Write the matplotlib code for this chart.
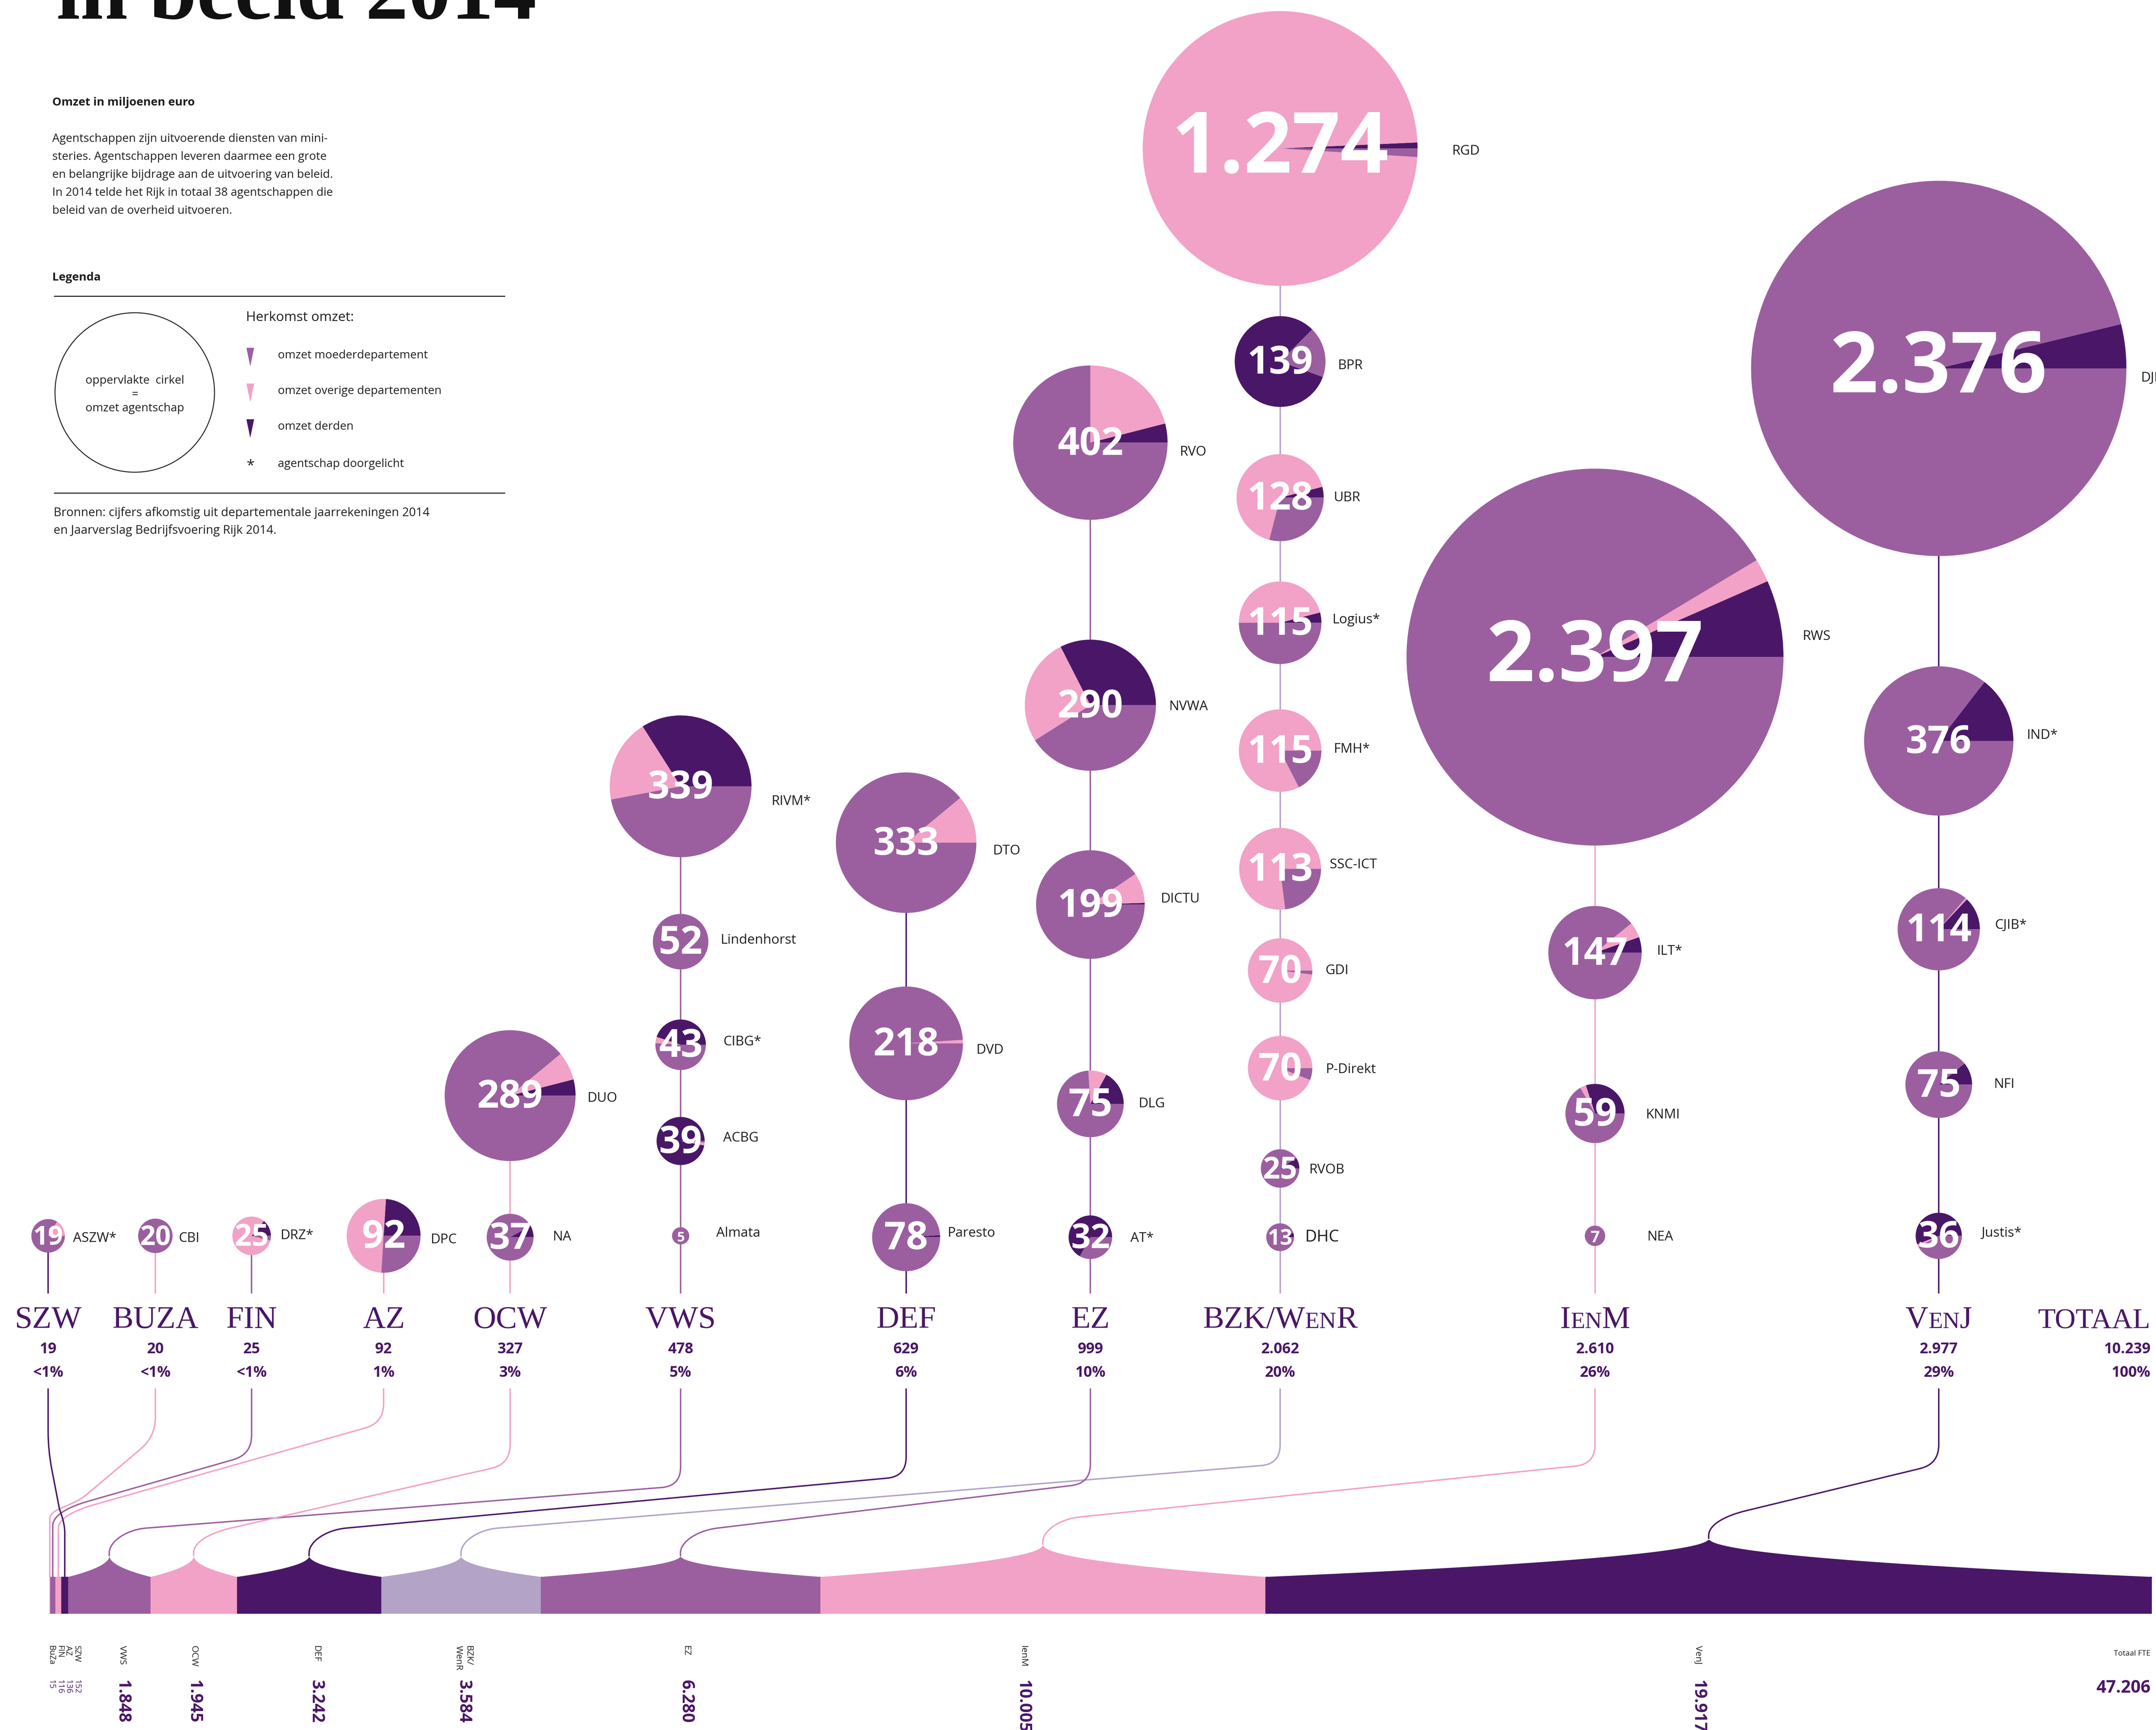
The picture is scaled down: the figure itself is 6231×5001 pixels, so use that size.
import numpy as np
import matplotlib.pyplot as plt
from matplotlib.patches import Circle, Polygon, PathPatch
from matplotlib.path import Path

W, H = 6231, 5001
S = W / 1568  # layout numbers below are in px of a 1568 px wide preview

PURPLE, PINK, DARK, LAVENDER = '#9b5fa0', '#f2a1c7', '#4a1768', '#b3a3c6'
INK = '#4a1766'
TXT = '#1e1e1e'
SANS = 'Open Sans'
SERIF = 'Liberation Serif'

# ---------------------------------------------------------------- data
dept_names = ['SZW', 'BUZA', 'FIN', 'AZ', 'OCW', 'VWS', 'DEF', 'EZ', 'BZK/WenR', 'IenM', 'VenJ']
dept_omzet = [19, 20, 25, 92, 327, 478, 629, 999, 2062, 2610, 2977]
dept_pct = ['<1%', '<1%', '<1%', '1%', '3%', '5%', '6%', '10%', '20%', '26%', '29%']
total_omzet = 10239
total_pct = '100%'

agencies = ['ASZW*', 'CBI', 'DRZ*', 'DPC', 'DUO', 'NA',
            'RIVM*', 'Lindenhorst', 'CIBG*', 'ACBG', 'Almata',
            'DTO', 'DVD', 'Paresto',
            'RVO', 'NVWA', 'DICTU', 'DLG', 'AT*',
            'RGD', 'BPR', 'UBR', 'Logius*', 'FMH*', 'SSC-ICT', 'GDI', 'P-Direkt', 'RVOB', 'DHC',
            'RWS', 'ILT*', 'KNMI', 'NEA',
            'DJI', 'IND*', 'CJIB*', 'NFI', 'Justis*']
agency_dept = (['SZW', 'BUZA', 'FIN', 'AZ', 'OCW', 'OCW'] + ['VWS'] * 5 + ['DEF'] * 3
               + ['EZ'] * 5 + ['BZK/WenR'] * 10 + ['IenM'] * 4 + ['VenJ'] * 5)
agency_omzet = [19, 20, 25, 92, 289, 37,
                339, 52, 43, 39, 5,
                333, 218, 78,
                402, 290, 199, 75, 32,
                1274, 139, 128, 115, 115, 113, 70, 70, 25, 13,
                2397, 147, 59, 7,
                2376, 376, 114, 75, 36]
# origin of turnover in % (estimated from the pie slices); moeder = rest
share_derden = [0, 0, 14, 24, 4, 8,
                34, 0, 45, 97, 0,
                0, 0, 1,
                4, 32.5, 0.5, 17, 67,
                0.7, 82, 4, 4, 0, 0, 0, 0, 9, 5,
                6.6, 5.4, 30, 0,
                3.8, 14.5, 13, 11, 56]
share_overige = [16, 0, 82, 50, 7, 0,
                 19, 0, 4, 2, 0,
                 11, 1, 0,
                 21, 26.5, 9, 9, 0,
                 98.3, 0, 67, 46, 82.5, 77, 98, 94, 0, 0,
                 2, 5.4, 3.3, 0,
                 0, 0, 0.7, 0, 2]

fte_labels = ['BuZa', 'FIN', 'AZ', 'SZW', 'VWS', 'OCW', 'DEF', 'BZK/\nWenR', 'EZ', 'IenM', 'VenJ']
fte_dept = ['BUZA', 'FIN', 'AZ', 'SZW', 'VWS', 'OCW', 'DEF', 'BZK/WenR', 'EZ', 'IenM', 'VenJ']
fte_values = [15, 116, 136, 152, 1848, 1945, 3242, 3584, 6280, 10005, 19917]
fte_total = 47206

# ---------------------------------------------------------------- layout
dept_color = {'SZW': DARK, 'BUZA': PINK, 'FIN': PURPLE, 'AZ': PINK, 'OCW': PINK, 'VWS': PURPLE,
              'DEF': DARK, 'EZ': PURPLE, 'BZK/WenR': LAVENDER, 'IenM': PINK, 'VenJ': DARK}
col_x = [35, 113, 183, 279, 371, 495, 659, 793, 931, 1160, 1410]
agency_y = [899, 899, 899, 899, 797, 900,
            572, 685, 760, 830, 899,
            613, 759, 900,
            322, 513, 658, 803, 900,
            108, 263, 362, 453, 546, 632, 706, 777, 850, 900,
            478, 693, 810, 899,
            268, 539, 676, 789, 899]
label_xy = [(53, 901), (130, 901), (204, 899), (313, 902), (427, 799), (402, 900),
            (561, 583), (524, 684), (526, 758), (526, 828), (521, 897),
            (722, 619), (710, 764), (689, 897),
            (858, 329), (850, 514), (844, 654), (828, 803), (822, 901),
            (1056, 110), (973, 266), (970, 362), (969, 451), (970, 545), (967, 629),
            (964, 706), (964, 778), (952, 851), (949, 900),
            (1311, 463), (1205, 692), (1197, 811), (1198, 900),
            (1557, 275), (1474, 535), (1451, 673), (1450, 789), (1441, 897)]
start_angle = {'BPR': 45}
R_K = 2.8  # preview px per sqrt(mln euro)

# links from department label down to the FTE bar
link_corner_y = [1055, 1045, 1058, 1035, 1065, 1081, 1074, 1079, 1065, 1065, 1065]
link_elbow = {'SZW': (-4, -50), 'BUZA': (27, -60), 'FIN': (26, -55), 'AZ': (28, -53)}
bump_h = [0, 0, 0, 0, 15.4, 15.4, 15.4, 15.4, 15.4, 23.5, 28]
fte_label_x = [None, None, None, None, 89, 141, 230, 337, 499, 744, 1235]
BAR_TOP, BAR_BOT, BAR_X0, BAR_X1 = 1147, 1174, 36, 1565


def P(x, y):
    return x * S, H - y * S


def nl(v):
    return f'{v:,}'.replace(',', '.')


fig = plt.figure(figsize=(W / 100, H / 100), dpi=100)
ax = fig.add_axes([0, 0, 1, 1])

# ---------------------------------------------------------------- header texts
ax.text(*P(41, 13.5), 'in beeld 2014', family=SERIF, fontweight='bold', fontsize=178,
        color='#111111', ha='left', va='baseline')
ax.text(*P(38, 74.7), 'Omzet in miljoenen euro', family=SANS, fontweight='bold',
        fontsize=24, color=TXT, va='center')
intro = ['Agentschappen zijn uitvoerende diensten van mini-',
         'steries. Agentschappen leveren daarmee een grote',
         'en belangrijke bijdrage aan de uitvoering van beleid.',
         'In 2014 telde het Rijk in totaal 38 agentschappen die',
         'beleid van de overheid uitvoeren.']
for i, line in enumerate(intro):
    ax.text(*P(38, 101 + 13.1 * i), line, family=SANS, fontsize=24, color=TXT, va='center')

# legend
ax.text(*P(38, 202), 'Legenda', family=SANS, fontweight='bold', fontsize=24, color=TXT, va='center')
for yy in (215.5, 358.6):
    x0, y0 = P(39.5, yy)
    x1, _ = P(367, yy)
    ax.plot([x0, x1], [y0, y0], color='#222222', lw=2.2)
ax.add_patch(Circle(P(98, 285.5), 58 * S, fill=False, ec='#222222', lw=2))
for yy, t in [(277, 'oppervlakte  cirkel'), (287, '='), (297, 'omzet agentschap')]:
    ax.text(*P(98, yy), t, family=SANS, fontsize=24, color=TXT, ha='center', va='center')
ax.text(*P(179, 231), 'Herkomst omzet:', family=SANS, fontsize=28, color=TXT, va='center')
for yy, c, t in [(253, PURPLE, 'omzet moederdepartement'), (279, PINK, 'omzet overige departementen'),
                 (305, DARK, 'omzet derden')]:
    ax.add_patch(Polygon([P(179.2, yy), P(184.8, yy), P(182, yy + 13.5)], closed=True, fc=c, ec='none'))
    ax.text(*P(202, yy + 5.5), t, family=SANS, fontsize=24, color=TXT, va='center')
ax.text(*P(182, 339), '*', family=SANS, fontsize=30, color=TXT, ha='center', va='center')
ax.text(*P(202, 337.5), 'agentschap doorgelicht', family=SANS, fontsize=24, color=TXT, va='center')
ax.text(*P(39, 373), 'Bronnen: cijfers afkomstig uit departementale jaarrekeningen 2014',
        family=SANS, fontsize=25, color=TXT, va='center')
ax.text(*P(39, 386), 'en Jaarverslag Bedrijfsvoering Rijk 2014.',
        family=SANS, fontsize=25, color=TXT, va='center')

# ---------------------------------------------------------------- column lines
for d, name in enumerate(dept_names):
    ys = [agency_y[i] for i in range(len(agencies)) if agency_dept[i] == name]
    x0, y0 = P(col_x[d], min(ys))
    _, y1 = P(col_x[d], 941)
    ax.plot([x0, x0], [y0, y1], color=dept_color[name], lw=3, zorder=1, solid_capstyle='butt')

# ---------------------------------------------------------------- pies
for i, name in enumerate(agencies):
    d = dept_names.index(agency_dept[i])
    cx, cy = P(col_x[d], agency_y[i])
    v = agency_omzet[i]
    r_prev = R_K * np.sqrt(v)
    moeder = 100 - share_derden[i] - share_overige[i]
    ax.pie([share_derden[i], share_overige[i], moeder], colors=[DARK, PINK, PURPLE],
           center=(cx, cy), radius=r_prev * S, startangle=start_angle.get(name, 0),
           counterclock=True, frame=True, wedgeprops=dict(linewidth=0, zorder=3))
    fs = 176 if v >= 1000 else min(80, 4.5 * r_prev)
    ax.text(cx, cy - 1.5 * S, nl(v), family=SANS, fontweight='bold',
            fontsize=fs, color='white', ha='center', va='center', zorder=5)
    lx, ly = label_xy[i]
    ax.text(*P(lx, ly), name, family=SANS, fontsize=34 if name == 'DHC' else 28,
            color=TXT, ha='left', va='center', zorder=5)

# ---------------------------------------------------------------- department labels


def caps_label(xc, y, word, size, align='center'):
    runs = []
    for ch in word:
        small = ch.islower()
        if runs and runs[-1][1] == small:
            runs[-1][0] += ch
        else:
            runs.append([ch, small])
    rend = fig.canvas.get_renderer()
    parts, total = [], 0
    for txt, small in runs:
        t = ax.text(0, y, txt.upper(), family=SERIF, fontsize=size * (0.74 if small else 1),
                    color=INK, ha='left', va='baseline')
        w = t.get_window_extent(rend).width
        parts.append((t, w))
        total += w
    x = xc - total / 2 if align == 'center' else xc - total
    for t, w in parts:
        t.set_x(x)
        x += w


for d, name in enumerate(dept_names):
    x, y = P(col_x[d], 966)
    caps_label(x, y, name, 66)
    ax.text(*P(col_x[d], 984.4), nl(dept_omzet[d]), family=SANS,
            fontweight='bold', fontsize=31, color=INK, ha='center', va='baseline')
    ax.text(*P(col_x[d], 1001.5), dept_pct[d], family=SANS, fontweight='bold',
            fontsize=31, color=INK, ha='center', va='baseline')
x, y = P(1564, 966)
caps_label(x, y, 'TOTAAL', 60, align='right')
ax.text(*P(1564, 984.4), nl(total_omzet), family=SANS, fontweight='bold',
        fontsize=31, color=INK, ha='right', va='baseline')
ax.text(*P(1564, 1001.5), total_pct, family=SANS, fontweight='bold', fontsize=31,
        color=INK, ha='right', va='baseline')

# ---------------------------------------------------------------- FTE bar
k = (BAR_X1 - BAR_X0) / sum(fte_values)
lefts = BAR_X0 + k * (np.cumsum(fte_values) - np.array(fte_values))
widths = k * np.array(fte_values)
cols = [dept_color[d] for d in fte_dept]
ax.barh(H - (BAR_TOP + BAR_BOT) / 2 * S, widths * S, left=lefts * S, height=(BAR_BOT - BAR_TOP) * S,
        color=cols, linewidth=0, zorder=2)

for j, d in enumerate(fte_dept):
    l, w = lefts[j], widths[j]
    px = l + w / 2
    h = bump_h[j]
    if h > 0:
        xs = np.linspace(l, l + w, 600)
        t = np.abs(xs - px) / (w / 2)
        ys = BAR_TOP - h * (1 - np.sqrt(t))
        ax.fill_between(xs * S, H - (BAR_TOP + 1) * S, H - ys * S, color=cols[j], linewidth=0, zorder=2)
        py = BAR_TOP - h
        ex, ey = px + 27, py - 20
    else:
        py = BAR_TOP
        dx, dy = link_elbow[d]
        ex, ey = px + dx, py + dy
    di = dept_names.index(d)
    cx, yc = col_x[di], link_corner_y[di]
    vx, vy = ex - cx, ey - yc
    n = np.hypot(vx, vy)
    ux, uy = vx / n, vy / n
    rc = min(14, n / 3)
    yb = ey + 18
    verts = [(cx, 1010), (cx, yc - rc), (cx, yc), (cx + ux * rc, yc + uy * rc), (ex, ey),
             (ex + ux * abs(ex - px) * 0.55, ey + uy * abs(ex - px) * 0.55),
             (px, yb - (yb - ey) * 0.45), (px, yb), (px, py + 0.5)]
    codes = [Path.MOVETO, Path.LINETO, Path.CURVE3, Path.CURVE3, Path.LINETO,
             Path.CURVE4, Path.CURVE4, Path.CURVE4, Path.LINETO]
    ax.add_patch(PathPatch(Path([P(a, b) for a, b in verts], codes), fill=False,
                           ec=cols[j], lw=3, zorder=2, capstyle='butt'))

# FTE labels
for j in range(4, len(fte_labels)):
    ax.text(*P(fte_label_x[j], 1197), fte_labels[j], family=SANS, fontsize=19, color=TXT,
            rotation=-90, ha='center', va='top', multialignment='left')
    ax.text(*P(fte_label_x[j], 1222), nl(fte_values[j]), family=SANS,
            fontweight='bold', fontsize=35, color=INK, rotation=-90, ha='center', va='top')
ax.text(*P(46.5, 1197), '\n'.join(fte_labels[3::-1]), family=SANS, fontsize=17, color=TXT,
        rotation=-90, ha='center', va='top', multialignment='left', linespacing=1.05)
ax.text(*P(46.5, 1222), '\n'.join(str(v) for v in fte_values[3::-1]), family=SANS, fontsize=17,
        color=INK, rotation=-90, ha='center', va='top', multialignment='left', linespacing=1.05)
ax.text(*P(1564, 1203), 'Totaal FTE', family=SANS, fontsize=16, color=TXT, ha='right', va='center')
ax.text(*P(1564, 1228), nl(fte_total), family=SANS, fontweight='bold',
        fontsize=36, color=INK, ha='right', va='center')

ax.set_xlim(0, W)
ax.set_ylim(0, H)
ax.axis('off')
fig.savefig('out.png', dpi=100, facecolor='white')
